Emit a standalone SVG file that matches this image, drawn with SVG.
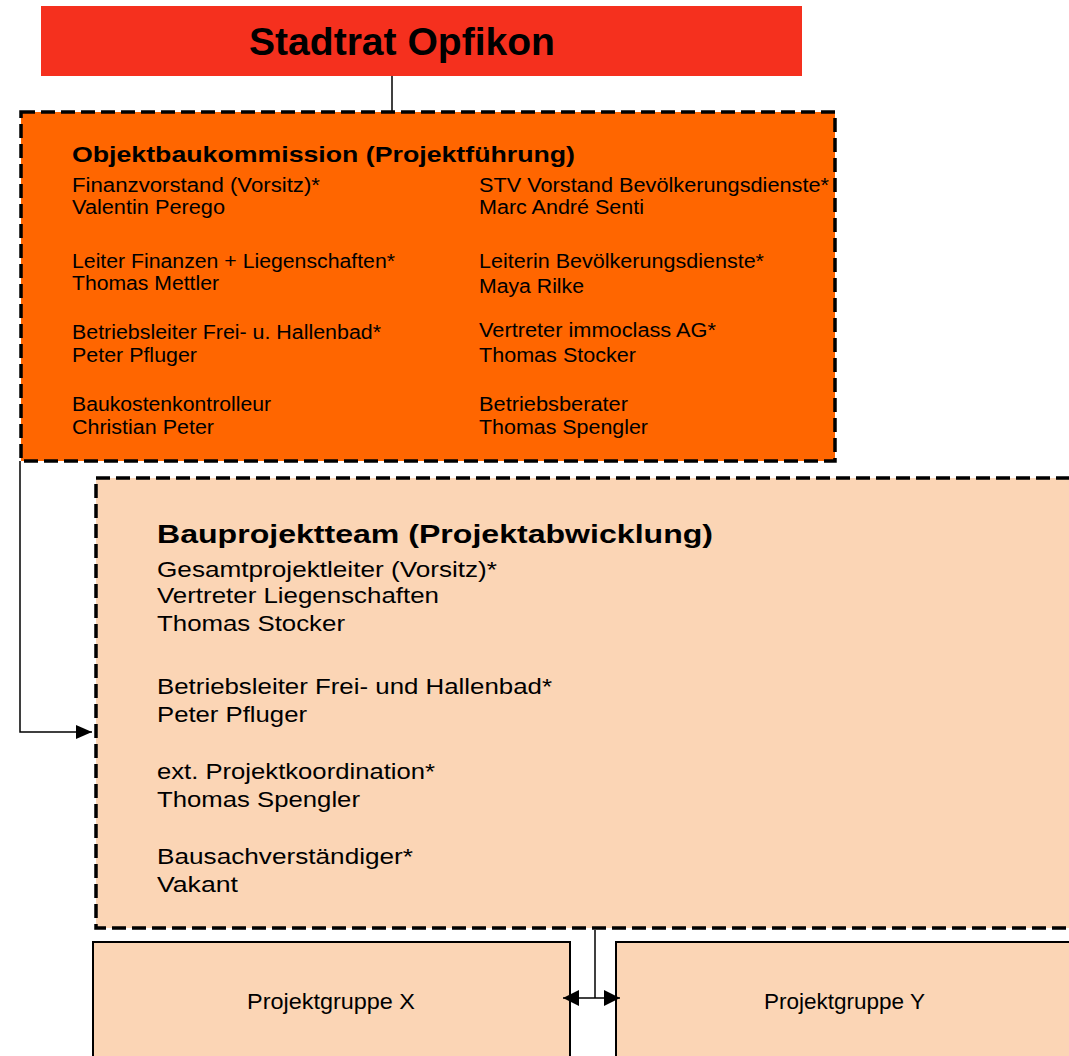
<svg xmlns="http://www.w3.org/2000/svg" width="1069" height="1056" viewBox="0 0 1069 1056">
<style>
text{font-family:"Liberation Sans",Arial,sans-serif;fill:#000}
.dash{stroke:#000;stroke-width:3.5;stroke-dasharray:14 6}
.b1{font-size:19.5px}
.b2{font-size:22.5px}
.line{stroke:#000;stroke-width:1.5;fill:none}
</style>
<defs>
<marker id="ah2" viewBox="0 0 16 14" markerWidth="16" markerHeight="14" refX="16" refY="7" orient="auto-start-reverse" markerUnits="userSpaceOnUse">
<path d="M0,0 L16,7 L0,14 Z" fill="#000"/>
</marker>
<marker id="ah3" viewBox="0 0 16 16" markerWidth="16" markerHeight="16" refX="16" refY="8" orient="auto-start-reverse" markerUnits="userSpaceOnUse">
<path d="M0,0 L16,8 L0,16 Z" fill="#000"/>
</marker>
</defs>
<g id="stadtrat">
<rect x="41" y="6" width="761" height="70" fill="#F5301E"/>
<text x="402" y="55" text-anchor="middle" font-size="38" font-weight="bold" textLength="306" lengthAdjust="spacingAndGlyphs">Stadtrat Opfikon</text>
</g>
<g id="objektbaukommission">
<rect x="21" y="112" width="814" height="349" fill="#FF6600" class="dash"/>
<text x="72" y="162" font-size="22.5" font-weight="bold" textLength="503" lengthAdjust="spacingAndGlyphs">Objektbaukommission (Projektführung)</text>
<g class="b1">
<text x="72" y="192" textLength="248" lengthAdjust="spacingAndGlyphs">Finanzvorstand (Vorsitz)*</text>
<text x="72" y="214" textLength="153" lengthAdjust="spacingAndGlyphs">Valentin Perego</text>
<text x="72" y="268" textLength="323" lengthAdjust="spacingAndGlyphs">Leiter Finanzen + Liegenschaften*</text>
<text x="72" y="290" textLength="147" lengthAdjust="spacingAndGlyphs">Thomas Mettler</text>
<text x="72" y="339" textLength="309" lengthAdjust="spacingAndGlyphs">Betriebsleiter Frei- u. Hallenbad*</text>
<text x="72" y="362" textLength="125" lengthAdjust="spacingAndGlyphs">Peter Pfluger</text>
<text x="72" y="411" textLength="199" lengthAdjust="spacingAndGlyphs">Baukostenkontrolleur</text>
<text x="72" y="434" textLength="142" lengthAdjust="spacingAndGlyphs">Christian Peter</text>
<text x="479" y="192" textLength="350" lengthAdjust="spacingAndGlyphs">STV Vorstand Bevölkerungsdienste*</text>
<text x="479" y="214" textLength="165" lengthAdjust="spacingAndGlyphs">Marc André Senti</text>
<text x="479" y="268" textLength="285" lengthAdjust="spacingAndGlyphs">Leiterin Bevölkerungsdienste*</text>
<text x="479" y="293" textLength="105" lengthAdjust="spacingAndGlyphs">Maya Rilke</text>
<text x="479" y="337" textLength="237" lengthAdjust="spacingAndGlyphs">Vertreter immoclass AG*</text>
<text x="479" y="362" textLength="157" lengthAdjust="spacingAndGlyphs">Thomas Stocker</text>
<text x="479" y="411" textLength="149" lengthAdjust="spacingAndGlyphs">Betriebsberater</text>
<text x="479" y="434" textLength="169" lengthAdjust="spacingAndGlyphs">Thomas Spengler</text>
</g>
</g>
<g id="bauprojektteam">
<rect x="96" y="478" width="990" height="450" fill="#FBD5B5" class="dash"/>
<text x="157" y="543" font-size="26" font-weight="bold" textLength="556" lengthAdjust="spacingAndGlyphs">Bauprojektteam (Projektabwicklung)</text>
<g class="b2">
<text x="157" y="577" textLength="340" lengthAdjust="spacingAndGlyphs">Gesamtprojektleiter (Vorsitz)*</text>
<text x="157" y="603" textLength="282" lengthAdjust="spacingAndGlyphs">Vertreter Liegenschaften</text>
<text x="157" y="631" textLength="188" lengthAdjust="spacingAndGlyphs">Thomas Stocker</text>
<text x="157" y="694" textLength="395" lengthAdjust="spacingAndGlyphs">Betriebsleiter Frei- und Hallenbad*</text>
<text x="157" y="722" textLength="150" lengthAdjust="spacingAndGlyphs">Peter Pfluger</text>
<text x="157" y="779" textLength="278" lengthAdjust="spacingAndGlyphs">ext. Projektkoordination*</text>
<text x="157" y="807" textLength="203" lengthAdjust="spacingAndGlyphs">Thomas Spengler</text>
<text x="157" y="864" textLength="256" lengthAdjust="spacingAndGlyphs">Bausachverständiger*</text>
<text x="157" y="892" textLength="81" lengthAdjust="spacingAndGlyphs">Vakant</text>
</g>
</g>
<g id="projektgruppe-x">
<rect x="93" y="942" width="477" height="130" fill="#FBD5B5" stroke="#000" stroke-width="2"/>
<text x="247" y="1009" font-size="22" textLength="168" lengthAdjust="spacingAndGlyphs">Projektgruppe X</text>
</g>
<g id="projektgruppe-y">
<rect x="616" y="942" width="470" height="130" fill="#FBD5B5" stroke="#000" stroke-width="2"/>
<text x="764" y="1009" font-size="22" textLength="161" lengthAdjust="spacingAndGlyphs">Projektgruppe Y</text>
</g>
<g id="connectors">
<line class="line" x1="392" y1="76" x2="392" y2="112"/>
<polyline class="line" points="20,461 20,732 92,732" marker-end="url(#ah2)"/>
<line class="line" x1="595" y1="930" x2="595" y2="998"/>
<line class="line" x1="563" y1="998" x2="620" y2="998" marker-start="url(#ah3)" marker-end="url(#ah3)"/>
</g>
</svg>
